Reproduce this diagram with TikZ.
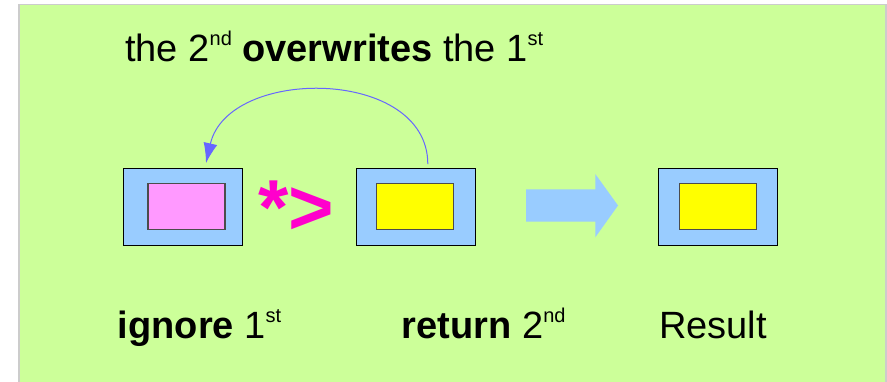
\documentclass[tikz,border=0pt]{standalone}
\usepackage{fontspec}
\setmainfont{Liberation Sans}
\usetikzlibrary{arrows.meta}

\definecolor{bggreen}{HTML}{CCFF99}
\definecolor{skyblue}{HTML}{99CCFF}
\definecolor{pinkval}{HTML}{FF99FF}
\definecolor{yellowval}{HTML}{FFFF00}
\definecolor{opmagenta}{HTML}{FF00CC}
\definecolor{linkblue}{HTML}{6666FF}
\newcommand\ordsup[1]{\raisebox{16pt}{\fontsize{20}{20}\selectfont #1}}

\begin{document}
\begin{tikzpicture}[x=1pt, y=-1pt, >={Latex[length=20pt,width=14pt]}, font=\fontsize{38}{42}\selectfont]
  \tikzstyle{frame} = [draw, fill=skyblue, minimum width=119pt, minimum height=77pt, inner sep=0pt]
  \tikzstyle{slot} = [draw=black!70, line width=1.2pt, minimum width=77pt, minimum height=46pt, inner sep=0pt]
  \tikzstyle{caption} = [anchor=base west, inner sep=0pt]
  \useasboundingbox (0,0) rectangle (887,382);
  \draw [black!20, fill=bggreen, line width=1.5pt] (19,4.5) rectangle (886,392);

  \node [caption] (title) at (125,61.7) {the 2\ordsup{nd} \textbf{overwrites} the 1\ordsup{st}};

  \node [frame] (first) at (182.8,206.8) {};
  \node [slot, fill=pinkval] (firstval) at ([xshift=3.7pt]first.center) {};
  \node [frame] (second) at (415.3,206.8) {};
  \node [slot, fill=yellowval] (secondval) at (second.center) {};
  \node [frame] (result) at (718,206.8) {};
  \node [slot, fill=yellowval] (resultval) at (result.center) {};

  \node [anchor=base, inner sep=0pt, text=opmagenta, font=\fontsize{78}{80}\selectfont\bfseries] (op) at (296,235) {*>};

  \node [caption] (ignore) at (117.6,338) {\textbf{ignore} 1\ordsup{st}};
  \node [caption] (return) at (401.6,338) {\textbf{return} 2\ordsup{nd}};
  \node [caption] (res) at (659,338) {Result};

  \fill [skyblue] (526,189.3) -- (595.3,189.3) -- (595.3,174) -- (618,205.5) -- (595.3,237.3) -- (595.3,221.7) -- (526,221.7) -- cycle;

  \draw [->, linkblue, line width=1pt] ([xshift=12.5pt,yshift=4pt]second.north) .. controls +(0,-97) and +(22,-97) .. ([xshift=23.2pt,yshift=5pt]first.north);
\end{tikzpicture}
\end{document}
